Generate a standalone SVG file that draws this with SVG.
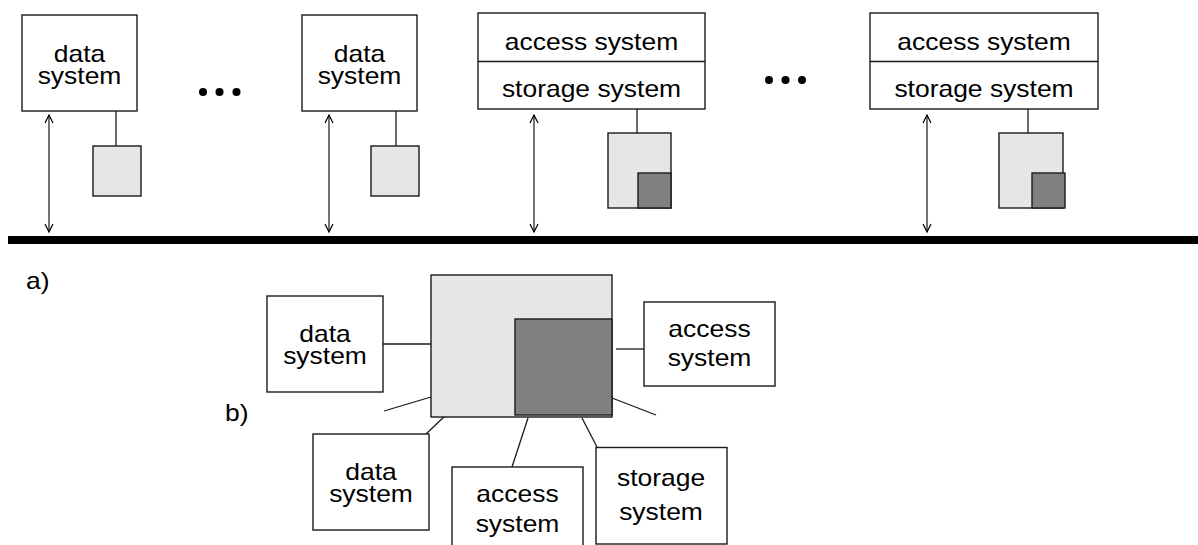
<svg xmlns="http://www.w3.org/2000/svg" width="1198" height="545" viewBox="0 0 1198 545">
<defs>
<marker id="ah" viewBox="0 0 10 10" refX="9" refY="5" markerWidth="10" markerHeight="10" markerUnits="userSpaceOnUse" orient="auto-start-reverse">
<path d="M1,1 L9,5 L1,9" fill="none" stroke="#000" stroke-width="1.2"/>
</marker>
</defs>
<style>
.box{fill:#fff;stroke:#1a1a1a;stroke-width:1.4}
.light{fill:#e6e6e6;stroke:#1a1a1a;stroke-width:1.4}
.dark{fill:#808080;stroke:#1a1a1a;stroke-width:1.4}
.ln{stroke:#1a1a1a;stroke-width:1.3;fill:none}
.arr{stroke:#000;stroke-width:1.1;fill:none;marker-start:url(#ah);marker-end:url(#ah)}
text{font-family:"Liberation Sans",Arial,sans-serif;font-size:23px;fill:#000;text-anchor:middle}
.lbl{text-anchor:start}
</style>
<rect width="1198" height="545" fill="#fff"/>

<g id="bus"><rect x="8" y="236" width="1190" height="8" fill="#000"/></g>

<g id="connectors">
<line class="ln" x1="116" y1="111" x2="116" y2="146"/>
<line class="ln" x1="396" y1="111" x2="396" y2="146"/>
<line class="ln" x1="637" y1="109" x2="637" y2="133"/>
<line class="ln" x1="1028" y1="109" x2="1028" y2="133"/>
<line class="arr" x1="49" y1="115" x2="49" y2="232"/>
<line class="arr" x1="329" y1="115" x2="329" y2="232"/>
<line class="arr" x1="534" y1="115" x2="534" y2="232"/>
<line class="arr" x1="927" y1="115" x2="927" y2="232"/>
<line class="ln" x1="383" y1="344" x2="431" y2="344"/>
<line class="ln" x1="384" y1="411" x2="431" y2="397"/>
<line class="ln" x1="426" y1="434" x2="447" y2="414"/>
<line class="ln" x1="512" y1="467" x2="528" y2="418"/>
<line class="ln" x1="597" y1="447" x2="582" y2="418"/>
<line class="ln" x1="616" y1="349" x2="644" y2="349"/>
<line class="ln" x1="612" y1="398" x2="656" y2="415"/>
</g>

<g id="ds1">
<rect class="box" x="22" y="15" width="115" height="96"/>
<text transform="translate(79.5 62) scale(1.15 1)">data</text>
<text transform="translate(79.5 84) scale(1.15 1)">system</text>
</g>
<g id="dots1">
<circle cx="203" cy="92" r="4"/><circle cx="219.5" cy="92" r="4"/><circle cx="236.5" cy="92" r="4"/>
</g>
<g id="ds2">
<rect class="box" x="302" y="15" width="115" height="96"/>
<text transform="translate(359.5 62) scale(1.15 1)">data</text>
<text transform="translate(359.5 84) scale(1.15 1)">system</text>
</g>
<g id="as3">
<rect class="box" x="478" y="13" width="227" height="96"/>
<line class="ln" x1="478" y1="61.5" x2="705" y2="61.5"/>
<text transform="translate(591.5 50) scale(1.15 1)">access system</text>
<text transform="translate(591.5 97) scale(1.15 1)">storage system</text>
</g>
<g id="dots2">
<circle cx="769" cy="80" r="4"/><circle cx="785.5" cy="80" r="4"/><circle cx="802" cy="80" r="4"/>
</g>
<g id="as4">
<rect class="box" x="870" y="13" width="228" height="96"/>
<line class="ln" x1="870" y1="61.5" x2="1098" y2="61.5"/>
<text transform="translate(984 50) scale(1.15 1)">access system</text>
<text transform="translate(984 97) scale(1.15 1)">storage system</text>
</g>

<g id="sq1"><rect class="light" x="93" y="146" width="48" height="50"/></g>
<g id="sq2"><rect class="light" x="371" y="146" width="48" height="50"/></g>
<g id="st3">
<rect class="light" x="608" y="133" width="63" height="75"/>
<rect class="dark" x="638" y="173" width="33" height="35"/>
</g>
<g id="st4">
<rect class="light" x="999" y="133" width="64" height="75"/>
<rect class="dark" x="1032" y="173" width="33" height="35"/>
</g>

<g id="label-a"><text class="lbl" transform="translate(26 289) scale(1.15 1)">a)</text></g>
<g id="label-b"><text class="lbl" transform="translate(225 421) scale(1.15 1)">b)</text></g>

<g id="big">
<rect class="light" x="431" y="275" width="181" height="142"/>
<rect class="dark" x="515" y="319" width="97" height="96"/>
</g>
<g id="b-ds1">
<rect class="box" x="267" y="296" width="116" height="96"/>
<text transform="translate(325 342) scale(1.15 1)">data</text>
<text transform="translate(325 364) scale(1.15 1)">system</text>
</g>
<g id="b-ds2">
<rect class="box" x="313" y="434" width="116" height="96"/>
<text transform="translate(371 480) scale(1.15 1)">data</text>
<text transform="translate(371 502) scale(1.15 1)">system</text>
</g>
<g id="b-as1">
<rect class="box" x="452" y="467" width="131" height="90"/>
<text transform="translate(517.5 502) scale(1.15 1)">access</text>
<text transform="translate(517.5 532) scale(1.15 1)">system</text>
</g>
<g id="b-ss">
<rect class="box" x="596" y="447.5" width="131" height="96.5"/>
<text transform="translate(661 486) scale(1.15 1)">storage</text>
<text transform="translate(661 520) scale(1.15 1)">system</text>
</g>
<g id="b-as2">
<rect class="box" x="644" y="302" width="131" height="84"/>
<text transform="translate(709.5 337) scale(1.15 1)">access</text>
<text transform="translate(709.5 366) scale(1.15 1)">system</text>
</g>
</svg>
